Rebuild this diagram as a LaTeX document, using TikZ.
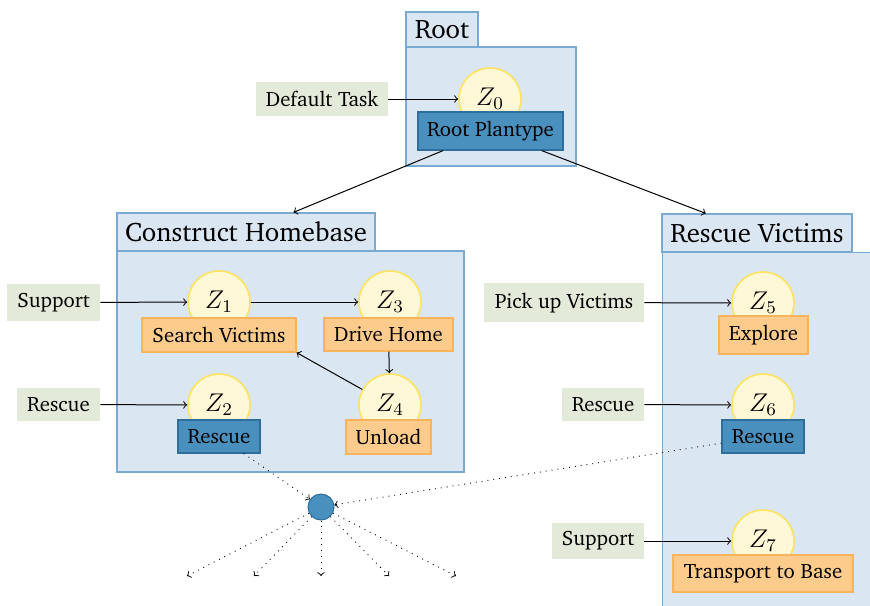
\documentclass[tikz,border=0pt]{standalone}
\usepackage{fix-cm}
\usepackage[T1]{fontenc}
\usepackage{charter}
\usetikzlibrary{arrows}

\definecolor{grpfill}{HTML}{DAE6F2}
\definecolor{grpline}{HTML}{7AAAD2}
\definecolor{plantfill}{HTML}{4A90BF}
\definecolor{plantline}{HTML}{2E6E9C}
\definecolor{taskfill}{HTML}{FDCB8B}
\definecolor{taskline}{HTML}{F8B45C}
\definecolor{zfill}{HTML}{FFF8D6}
\definecolor{zline}{HTML}{FDE35E}
\definecolor{inlabel}{HTML}{E3EAD9}

\tikzset{
  txt/.style={font=\fontsize{10.4}{12}\selectfont, inner sep=0pt, align=center},
  grp/.style={draw=grpline, fill=grpfill, line width=0.6pt},
  grptitle/.style={grp, txt, font=\fontsize{13.4}{15}\selectfont},
  zstate/.style={circle, draw=zline, fill=zfill, line width=0.8pt, minimum size=31pt,
                 inner sep=0pt, font=\fontsize{12.8}{14}\selectfont},
  plantbox/.style={txt, draw=plantline, fill=plantfill, line width=0.6pt},
  taskbox/.style={txt, draw=taskline, fill=taskfill, line width=0.6pt},
  inbox/.style={txt, fill=inlabel},
  hub/.style={circle, draw=plantline, fill=plantfill, line width=0.5pt, minimum size=13pt, inner sep=0pt},
  flow/.style={->, line width=0.5pt},
  dotflow/.style={->, line width=0.45pt, dash pattern=on 0.45pt off 2.5pt}
}

\begin{document}
\begin{tikzpicture}[x=0.5pt, y=-0.5pt]
\useasboundingbox (0,0) rectangle (870,605);
\clip (0,0) rectangle (870,605);

% --- Root group ---
\node[grp, minimum width=85pt, minimum height=59.5pt] (rootbody) at (491,106.5) {};
\node[grptitle, minimum width=36pt, minimum height=17.5pt] (roottitle) at (442,29.5) {Root};
\node[zstate] (z0) at (490,99) {$Z_0$};
\node[plantbox, minimum width=72.5pt, minimum height=19pt] (rootplan) at (490.5,131) {Root Plantype};
\node[inbox, minimum width=66pt, minimum height=17pt] (deftask) at (322,99) {Default Task};

% --- Construct Homebase group ---
\node[grp, minimum width=173.5pt, minimum height=110.5pt] (chbody) at (290.5,361.5) {};
\node[grptitle, minimum width=129pt, minimum height=19pt] (chtitle) at (246,232) {Construct Homebase};
\node[zstate] (z1) at (219,302) {$Z_1$};
\node[zstate] (z3) at (390,302) {$Z_3$};
\node[zstate] (z2) at (219,405) {$Z_2$};
\node[zstate] (z4) at (390,405) {$Z_4$};
\node[taskbox, minimum width=77pt, minimum height=17pt] (search) at (219,335) {Search Victims};
\node[taskbox, minimum width=64.5pt, minimum height=16.5pt] (drive) at (388.5,334.5) {Drive Home};
\node[taskbox, minimum width=42.5pt, minimum height=17pt] (unload) at (388.5,437) {Unload};
\node[plantbox, minimum width=41pt, minimum height=16.5pt] (rescueA) at (219,436.5) {Rescue};
\node[inbox, minimum width=46.5pt, minimum height=18.5pt] (supportA) at (53.5,302.5) {Support};
\node[inbox, minimum width=41.5pt, minimum height=16.5pt] (rescueinA) at (58.5,404.5) {Rescue};

% --- Rescue Victims group ---
\node[grp, minimum width=119pt, minimum height=199pt, anchor=north west] (rvbody) at (662,252) {};
\node[grptitle, minimum width=95pt, minimum height=19pt] (rvtitle) at (757,233) {Rescue Victims};
\node[zstate] (z5) at (763,303) {$Z_5$};
\node[zstate] (z6) at (763,405) {$Z_6$};
\node[zstate] (z7) at (763,541) {$Z_7$};
\node[taskbox, minimum width=44.5pt, minimum height=19pt] (explore) at (763.5,335) {Explore};
\node[plantbox, minimum width=41pt, minimum height=16.5pt] (rescueB) at (763,436.5) {Rescue};
\node[taskbox, minimum width=90pt, minimum height=18.5pt] (transport) at (763,573.5) {Transport to Base};
\node[inbox, minimum width=80pt, minimum height=19.5pt] (pickup) at (564,302.5) {Pick up Victims};
\node[inbox, minimum width=41pt, minimum height=16.5pt] (rescueinB) at (603,404.5) {Rescue};
\node[inbox, minimum width=46pt, minimum height=18pt] (supportB) at (598,541) {Support};

% --- shared hub and its outgoing ends ---
\node[hub] (hub) at (321,507) {};
\coordinate (o1) at (187,576);
\coordinate (o2) at (254,576);
\coordinate (o3) at (321,576);
\coordinate (o4) at (389,576);
\coordinate (o5) at (456,576);

% --- connectors ---
\draw[flow] (deftask) -- (z0);
\draw[flow] (rootplan) -- (chtitle);
\draw[flow] (rootplan) -- (rvtitle);

\draw[flow] (supportA) -- (z1);
\draw[flow] (rescueinA) -- (z2);
\draw[flow] (z1) -- (z3);
\draw[flow] (drive) -- (z4);
\draw[flow] (z4) -- (search.south east);

\draw[flow] (pickup) -- (z5);
\draw[flow] (rescueinB) -- (z6);
\draw[flow] (supportB) -- (z7);

\draw[dotflow] (rescueA) -- (hub);
\draw[dotflow] (rescueB) -- (hub);
\foreach \e in {o1,o2,o3,o4,o5}
  \draw[dotflow] (hub) -- (\e);
\end{tikzpicture}
\end{document}
